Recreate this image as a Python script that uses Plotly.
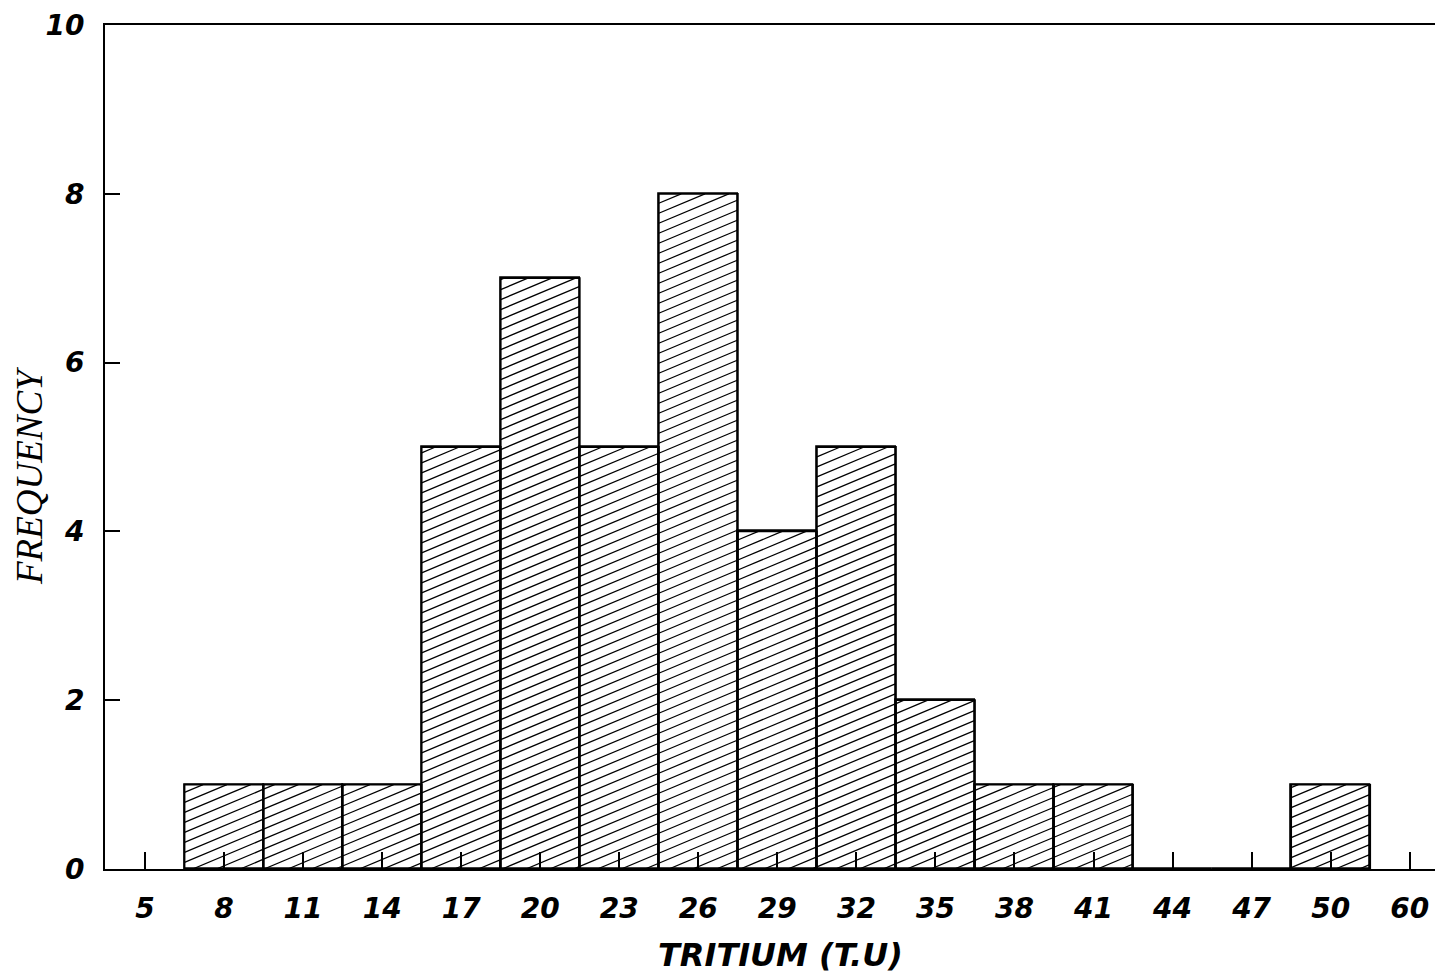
import plotly.graph_objects as go

# Tritium frequency histogram (bins labelled by class value)
tick_labels = ["5", "8", "11", "14", "17", "20", "23", "26", "29", "32",
               "35", "38", "41", "44", "47", "50", "60"]
bar_labels = ["8", "11", "14", "17", "20", "23", "26", "29", "32",
              "35", "38", "41", "44", "47", "50"]
frequency = [1, 1, 1, 5, 7, 5, 8, 4, 5, 2, 1, 1, 0, 0, 1]
y_ticks = [0, 2, 4, 6, 8, 10]

W, H = 1435, 976
M_L, M_R, M_T, M_B = 105, 0, 25, 107
X_RANGE = [-0.506, 16.32]
Y_RANGE = [0, 10]

# numeric position of each category on the x axis
pos = {lab: i for i, lab in enumerate(tick_labels)}
bar_x = [pos[lab] for lab in bar_labels]

# pixel scale of the plotting area, used to build the diagonal hatching
px_per_x = (W - M_L - M_R) / (X_RANGE[1] - X_RANGE[0])
px_per_y = (H - M_T - M_B) / (Y_RANGE[1] - Y_RANGE[0])
hatch_slope_px = 0.42      # rise over run on screen
hatch_gap_px = 10.0        # vertical distance between hatch lines
m = hatch_slope_px * px_per_x / px_per_y
gap = hatch_gap_px / px_per_y

hx, hy = [], []
for xc, h in zip(bar_x, frequency):
    if h <= 0:
        continue
    xl, xr = xc - 0.5, xc + 0.5
    # lines y = c + m*x that cross the rectangle [xl, xr] x [0, h]
    k_min = int((0 - m * xr) / gap) - 1
    k_max = int((h - m * xl) / gap) + 1
    for k in range(k_min, k_max + 1):
        c = k * gap
        x0 = max(xl, (0 - c) / m)
        x1 = min(xr, (h - c) / m)
        if x1 - x0 > 1e-6:
            hx += [x0, x1, None]
            hy += [c + m * x0, c + m * x1, None]

fig = go.Figure()

fig.add_trace(go.Bar(
    x=bar_x, y=frequency, width=1.0,
    marker=dict(color="white", line=dict(color="black", width=1.8)),
    hoverinfo="skip", showlegend=False,
))

fig.add_trace(go.Scatter(
    x=hx, y=hy, mode="lines",
    line=dict(color="black", width=1.25),
    hoverinfo="skip", showlegend=False,
))

# redraw bar outlines on top of the hatching
ox, oy = [], []
for xc, h in zip(bar_x, frequency):
    if h <= 0:
        continue
    xl, xr = xc - 0.5, xc + 0.5
    ox += [xl, xl, xr, xr, None]
    oy += [0, h, h, 0, None]
fig.add_trace(go.Scatter(
    x=ox, y=oy, mode="lines",
    line=dict(color="black", width=1.8),
    hoverinfo="skip", showlegend=False,
))

tick_font = dict(family="DejaVu Sans, Verdana, sans-serif", size=28, color="black")

fig.update_layout(
    width=W, height=H,
    margin=dict(l=M_L, r=M_R, t=M_T, b=M_B),
    paper_bgcolor="white", plot_bgcolor="white",
    bargap=0,
    xaxis=dict(
        range=X_RANGE,
        tickmode="array",
        tickvals=list(range(len(tick_labels))),
        ticktext=[f"<b><i>{t}</i></b>" for t in tick_labels],
        ticks="inside", ticklen=17, tickwidth=2, tickcolor="black",
        showline=True, linecolor="black", linewidth=2, mirror=True,
        showgrid=False, zeroline=False,
        tickfont=tick_font,
        ticklabelstandoff=13,
    ),
    yaxis=dict(
        range=Y_RANGE,
        tickmode="array",
        tickvals=y_ticks,
        ticktext=[f"<b><i>{v}</i></b>" for v in y_ticks],
        ticks="inside", ticklen=15, tickwidth=2, tickcolor="black",
        showline=True, linecolor="black", linewidth=2,
        showgrid=False, zeroline=False,
        tickfont=tick_font,
        ticklabelstandoff=13,
    ),
    annotations=[
        dict(text="<b><i>TRITIUM (T.U)</i></b>", xref="paper", yref="paper",
             x=(780 - M_L) / (W - M_L - M_R), y=-(955 - (H - M_B)) / (H - M_T - M_B),
             xanchor="center", yanchor="middle", showarrow=False,
             font=dict(family="DejaVu Sans, Verdana, sans-serif", size=32, color="black")),
        dict(text="<i>FREQUENCY</i>", xref="paper", yref="paper",
             x=-(M_L - 29) / (W - M_L - M_R), y=(H - M_B - 476) / (H - M_T - M_B),
             xanchor="center", yanchor="middle", textangle=-90, showarrow=False,
             font=dict(family="Liberation Serif, Times New Roman, serif", size=37, color="black")),
    ],
)

fig.write_html("out.html")
